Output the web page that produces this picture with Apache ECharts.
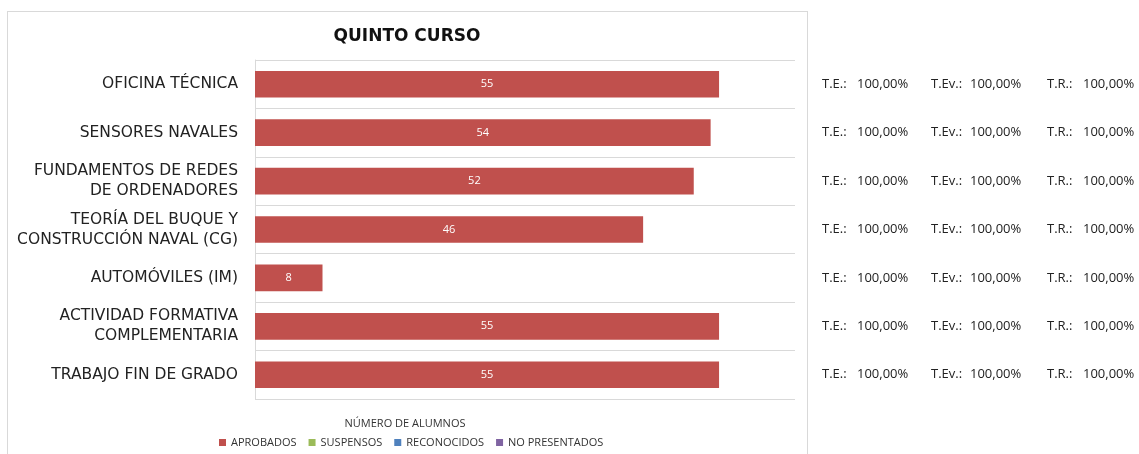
<!DOCTYPE html>
<html>
<head>
<meta charset="utf-8">
<script src="https://cdn.jsdelivr.net/npm/echarts@6/dist/echarts.min.js"></script>
<style>
    html, body { margin: 0; padding: 0; background: #fff; }
    #frame { position: absolute; left: 7px; top: 11px; width: 801px; height: 460px; border: 1px solid #d9d9d9; box-sizing: border-box; }
    #chart { position: absolute; left: 0; top: 0; width: 1139px; height: 454px; }
</style>
</head>
<body>
<div id="frame"></div>
<div id="chart"></div>
<script>
const categories = [
    "OFICINA TÉCNICA",
    "SENSORES NAVALES",
    "FUNDAMENTOS DE REDES\nDE ORDENADORES",
    "TEORÍA DEL BUQUE Y\nCONSTRUCCIÓN NAVAL (CG)",
    "AUTOMÓVILES (IM)",
    "ACTIVIDAD FORMATIVA\nCOMPLEMENTARIA",
    "TRABAJO FIN DE GRADO"
];
const aprobados = [55, 54, 52, 46, 8, 55, 55];
const suspensos = [0, 0, 0, 0, 0, 0, 0];
const reconocidos = [0, 0, 0, 0, 0, 0, 0];
const noPresentados = [0, 0, 0, 0, 0, 0, 0];
const tasaExito = ["100,00%", "100,00%", "100,00%", "100,00%", "100,00%", "100,00%", "100,00%"];
const tasaEval = ["100,00%", "100,00%", "100,00%", "100,00%", "100,00%", "100,00%", "100,00%"];
const tasaRend = ["100,00%", "100,00%", "100,00%", "100,00%", "100,00%", "100,00%", "100,00%"];

const chart = echarts.init(document.getElementById("chart"));
const gridColor = "#d9d9d9";
const font = "'Open Sans', sans-serif";
const wideFont = "'DejaVu Sans', sans-serif";

const barLabel = {
    show: true,
    position: "inside",
    color: "#fff",
    fontSize: 11,
    fontFamily: font,
    formatter: p => (p.value ? p.value : "")
};

function makeSeries(name, data, color) {
    return {
        name: name,
        type: "bar",
        stack: "total",
        barWidth: "55%",
        data: data,
        itemStyle: { color: color },
        label: barLabel
    };
}

const rateRows = categories.map((c, i) => i);
const rateStyle = { fontFamily: font, fontSize: 13, color: "#222" };

chart.setOption({
    animation: false,
    title: [
        {
            text: "QUINTO CURSO",
            left: 402,
            top: 23,
            textAlign: "center",
            textStyle: { fontFamily: wideFont, fontSize: 17, fontWeight: "bold", color: "#111" }
        },
        {
            text: "NÚMERO DE ALUMNOS",
            left: 400,
            top: 413,
            textAlign: "center",
            textStyle: { fontFamily: font, fontSize: 11, fontWeight: "normal", color: "#333" }
        }
    ],
    legend: {
        left: 219,
        top: 437,
        padding: 0,
        itemWidth: 7,
        itemHeight: 7,
        itemGap: 12,
        icon: "rect",
        textStyle: { fontFamily: font, fontSize: 11, color: "#333" },
        data: ["APROBADOS", "SUSPENSOS", "RECONOCIDOS", "NO PRESENTADOS"]
    },
    grid: { left: 255, right: 344, top: 60, bottom: 55 },
    xAxis: {
        type: "value",
        min: 0,
        max: 64,
        axisLabel: { show: false },
        axisLine: { show: false },
        axisTick: { show: false },
        splitLine: { show: false }
    },
    yAxis: [
        {
            type: "category",
            inverse: true,
            data: categories,
            axisLine: { show: true, lineStyle: { color: gridColor } },
            axisTick: { show: false },
            splitLine: { show: true, lineStyle: { color: gridColor, width: 1 } },
            axisLabel: {
                margin: 17,
                fontFamily: wideFont,
                fontSize: 15.5,
                color: "#222",
                lineHeight: 20,
                align: "right"
            }
        },
        {
            type: "category",
            inverse: true,
            position: "right",
            data: rateRows,
            axisLine: { show: false },
            axisTick: { show: false },
            splitLine: { show: false },
            axisLabel: {
                margin: 27,
                align: "left",
                fontFamily: font,
                fontSize: 13,
                color: "#222",
                formatter: v => {
                    const i = Number(v);
                    return "{a|T.E.:}{b|" + tasaExito[i] + "}{c|T.Ev.:}{d|" + tasaEval[i] + "}{e|T.R.:}{f|" + tasaRend[i] + "}";
                },
                rich: {
                    a: Object.assign({ width: 35 }, rateStyle),
                    b: Object.assign({ width: 74 }, rateStyle),
                    c: Object.assign({ width: 39 }, rateStyle),
                    d: Object.assign({ width: 77 }, rateStyle),
                    e: Object.assign({ width: 36 }, rateStyle),
                    f: rateStyle
                }
            }
        }
    ],
    series: [
        makeSeries("APROBADOS", aprobados, "#c0504d"),
        makeSeries("SUSPENSOS", suspensos, "#9bbb59"),
        makeSeries("RECONOCIDOS", reconocidos, "#4f81bd"),
        makeSeries("NO PRESENTADOS", noPresentados, "#8064a2")
    ]
});
</script>
</body>
</html>
